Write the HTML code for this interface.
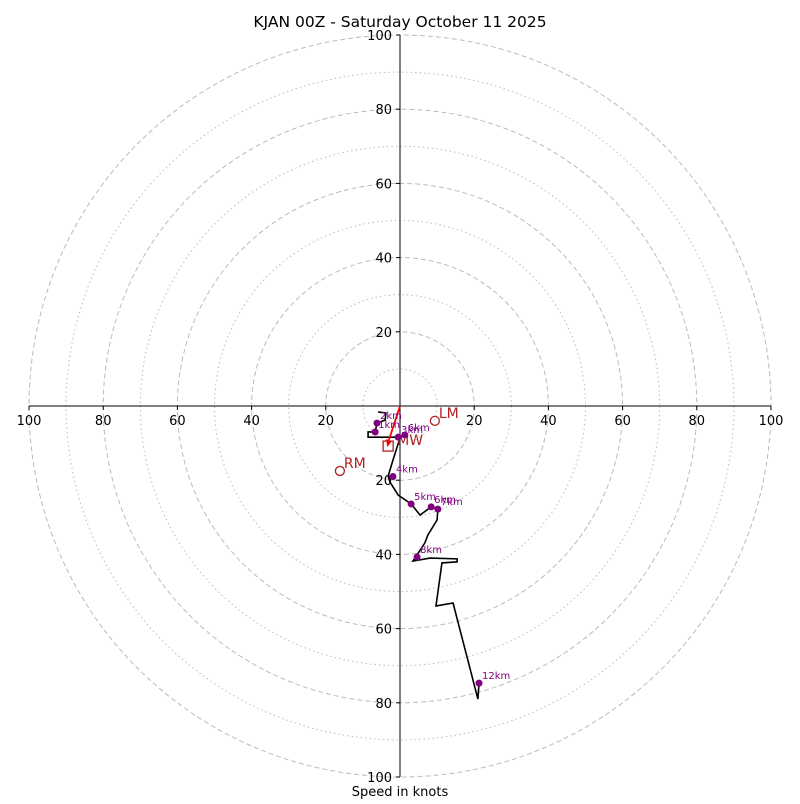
<!DOCTYPE html>
<html><head><meta charset="utf-8"><style>
body{margin:0;background:#fff;font-family:"DejaVu Sans","Liberation Sans",sans-serif}
</style></head><body>
<svg id="c" width="800" height="800" xmlns="http://www.w3.org/2000/svg" font-family="DejaVu Sans, Liberation Sans, sans-serif">
<text x="400" y="27" text-anchor="middle" font-size="15.5">KJAN 00Z - Saturday October 11 2025</text>
<text x="400" y="796" text-anchor="middle" font-size="13">Speed in knots</text>
<g id="rings"></g><g id="axes"></g><g id="series"></g>
</svg>
<script>
const ringValues=[10,20,30,40,50,60,70,80,90,100];
const tickValues=[20,40,60,80,100];
const hodoU=[-5.9,-3.8,-4.0,-6.2,-6.7,-8.6,-8.6,-3.2,-0.5,1.3,0,-1.9,-3.2,-2.7,-0.5,3.0,5.4,8.4,10.2,10.0,7.5,6.7,3.5,8.1,15.4,15.4,11.3,9.7,14.3,21.0,21.3];
const hodoV=[-1.6,-1.9,-3.8,-4.6,-7.0,-7.0,-8.4,-8.4,-8.4,-7.8,-8.6,-14.6,-18.9,-20.5,-24.0,-26.4,-29.4,-27.2,-27.8,-30.7,-34.8,-36.9,-41.8,-41.0,-41.2,-42.0,-42.3,-53.9,-53.1,-79.0,-74.7];
const markerLabels=["1km","2km","3km","6km","4km","5km","6km","7km","8km","12km"];
const markerU=[-6.7,-6.2,-0.5,1.3,-1.9,3.0,8.4,10.2,4.6,21.3];
const markerV=[-7.0,-4.6,-8.4,-7.8,-19.0,-26.4,-27.2,-27.8,-40.7,-74.7];
const stormLabels=["LM","RM"];
const stormU=[9.4,-16.2];
const stormV=[-4.0,-17.5];
const meanWindU=[-3.2];
const meanWindV=[-10.8];
const NS="http://www.w3.org/2000/svg",cx=400,cy=406,k=3.71;
const X=u=>cx+u*k, Y=v=>cy-v*k;
function mk(t,a,p){const e=document.createElementNS(NS,t);for(const n in a)e.setAttribute(n,a[n]);p.appendChild(e);return e;}
const rings=document.getElementById('rings'),axes=document.getElementById('axes'),ser=document.getElementById('series');
ringValues.forEach(r=>{const e=mk('circle',{cx:cx,cy:cy,r:r*k,fill:'none',stroke:'#bbb','stroke-width':1,'stroke-dasharray':r%20?'1.5,3':'5,3'},rings);

});
let l=mk('line',{x1:X(-100),x2:X(100),y1:cy,y2:cy,stroke:'#000'},axes);


l=mk('line',{x1:cx,x2:cx,y1:Y(100),y2:Y(-100),stroke:'#000'},axes);


tickValues.forEach(t=>{[t,-t].forEach(s=>{
 mk('line',{x1:X(s),x2:X(s),y1:cy,y2:cy+4,stroke:'#000'},axes);
 let a=mk('text',{x:X(s),y:cy+19,'text-anchor':'middle','font-size':13},axes);a.textContent=t;
 
 
 mk('line',{x1:cx-4,x2:cx,y1:Y(s),y2:Y(s),stroke:'#000'},axes);
 let b=mk('text',{x:cx-8,y:Y(s)+5,'text-anchor':'end','font-size':13},axes);b.textContent=t;
 
 });});
let p=mk('polyline',{points:hodoU.map((u,i)=>X(u)+','+Y(hodoV[i])).join(' '),fill:'none',stroke:'#000','stroke-width':1.6},ser);


let ar=mk('line',{x1:X(0),y1:Y(0),x2:X(meanWindU[0]),y2:Y(meanWindV[0]+1),stroke:'red','stroke-width':1.8},ser);


mk('polygon',{points:`${X(meanWindU[0])-1},${Y(meanWindV[0])+1} ${X(meanWindU[0])-2},${Y(meanWindV[0])-7} ${X(meanWindU[0])+4},${Y(meanWindV[0])-5}`,fill:'red'},ser);
let sq=mk('rect',{x:X(meanWindU[0])-5,y:Y(meanWindV[0])-5,width:10,height:10,fill:'none',stroke:'#b22222','stroke-width':1.3},ser);


let mw=mk('text',{x:X(meanWindU[0])+9,y:Y(meanWindV[0])-1,fill:'#b22222','font-size':14},ser);mw.textContent='MW';


stormLabels.forEach((s,i)=>{let c=mk('circle',{cx:X(stormU[i]),cy:Y(stormV[i]),r:4.5,fill:'none',stroke:'#b22222','stroke-width':1.3},ser);


let t=mk('text',{x:X(stormU[i])+4,y:Y(stormV[i])-3,fill:'#b22222','font-size':14},ser);t.textContent=s;

});
markerLabels.forEach((s,i)=>{let c=mk('circle',{cx:X(markerU[i]),cy:Y(markerV[i]),r:3.5,fill:'purple'},ser);


let t=mk('text',{x:X(markerU[i])+3,y:Y(markerV[i])-4,fill:'purple','font-size':10},ser);t.textContent=s;

});
</script>
</body></html>
